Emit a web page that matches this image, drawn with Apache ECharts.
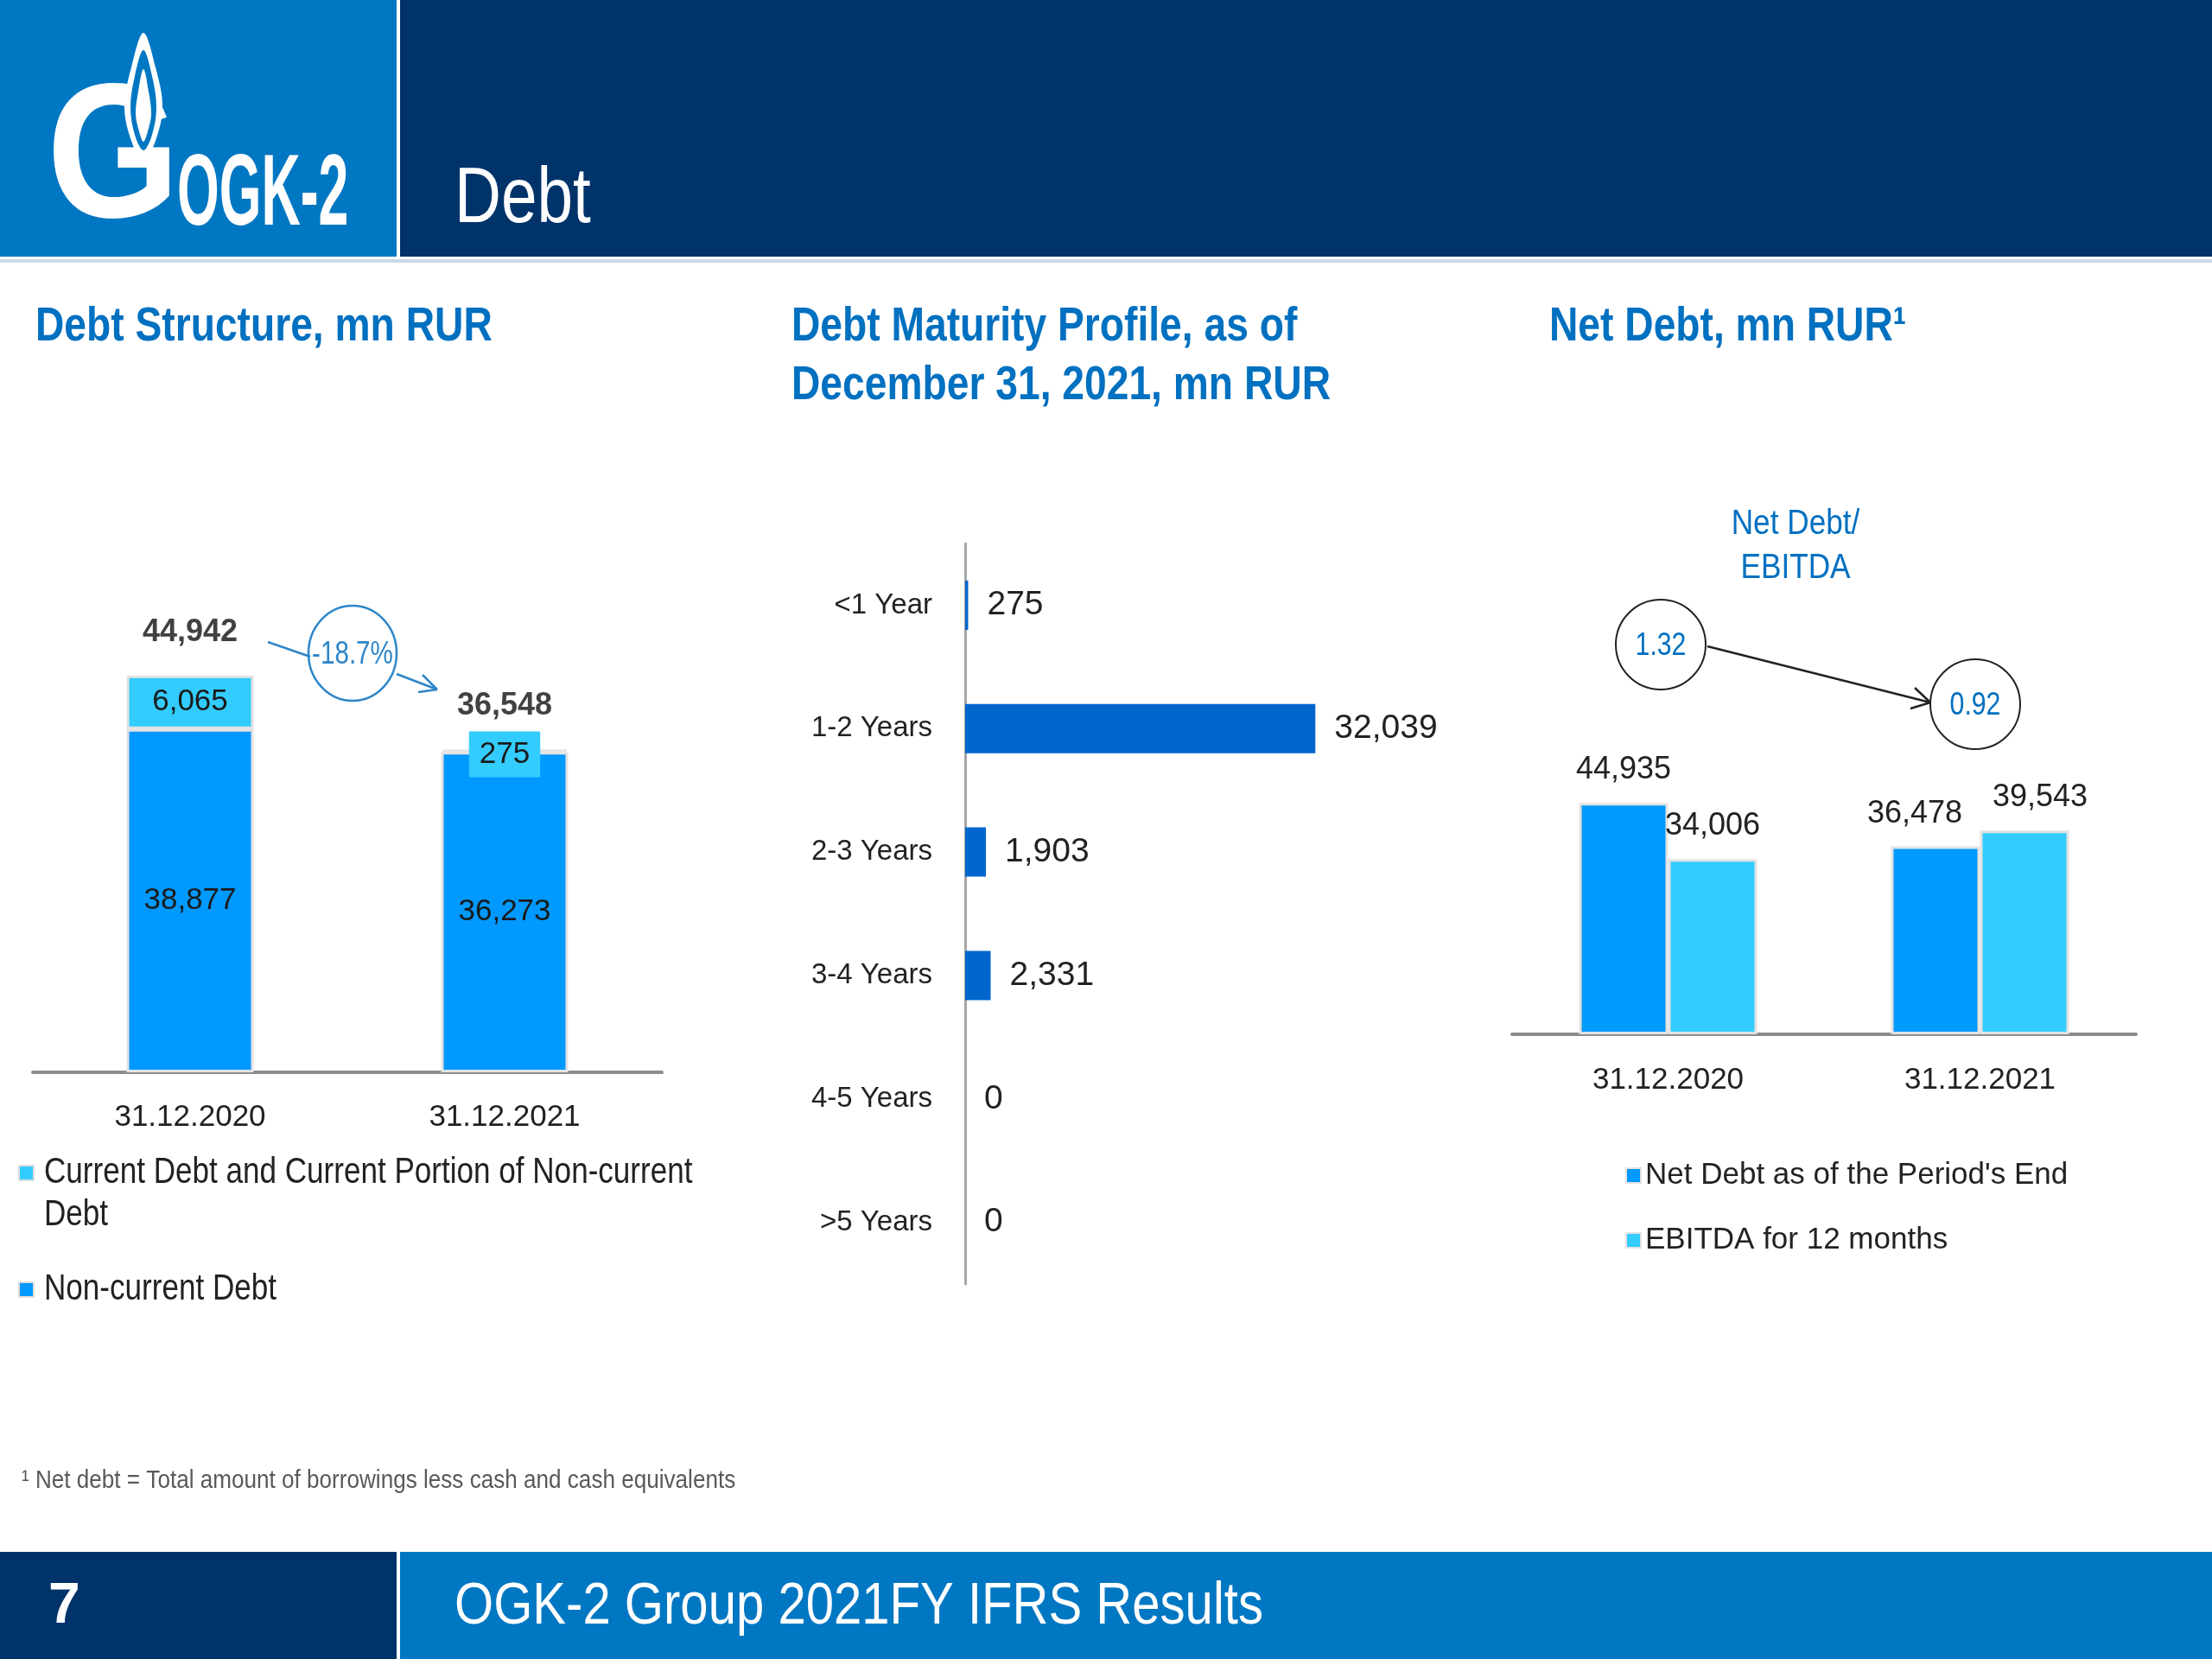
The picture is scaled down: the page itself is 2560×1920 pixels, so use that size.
<!DOCTYPE html>
<html>
<head>
<meta charset="utf-8">
<title>OGK-2 Debt</title>
<script src="https://cdn.jsdelivr.net/npm/echarts@6/dist/echarts.min.js"></script>
<style>
  html, body { margin: 0; padding: 0; background: #fff; }
  #chart { width: 2560px; height: 1920px; }
</style>
</head>
<body>
<div id="chart"></div>
<script>
// data
const debtDates = ['31.12.2020', '31.12.2021'];
const nonCurrentDebt = [38877, 36273];
const currentDebt = [6065, 275];
const debtChangeLabel = '-18.7%';

const maturityBuckets = ['<1 Year', '1-2 Years', '2-3 Years', '3-4 Years', '4-5 Years', '>5 Years'];
const maturityValues = [275, 32039, 1903, 2331, 0, 0];

const netDebtDates = ['31.12.2020', '31.12.2021'];
const netDebt = [44935, 36478];
const ebitda12m = [34006, 39543];
const netDebtToEbitda = [1.32, 0.92];

// no narrow face installed: plain Liberation Sans, squeezed with scaleX for the slide texts
const SANS = "'Liberation Sans', Arial, sans-serif";
const SQUEEZE = 0.84;
const NAVY = '#00336A';
const BLUE = '#0077C2';
const TITLE_BLUE = '#0070C0';
const C_DARK = '#0099FF';
const C_LIGHT = '#33CCFF';
const C_MAT = '#0066CC';

function fmt(v) {
  return Number(v).toLocaleString('en-US');
}

function txt(x, y, text, size, color, opts) {
  opts = opts || {};
  return {
    type: 'text', x: x, y: y, silent: true,
    scaleX: opts.scaleX || SQUEEZE,
    style: {
      text: text, x: 0, y: 0,
      fill: color,
      fontSize: size,
      fontFamily: SANS,
      fontWeight: opts.weight || 'normal',
      align: opts.align || 'left',
      verticalAlign: 'middle'
    }
  };
}

function line(x1, y1, x2, y2, color, w) {
  return { type: 'line', silent: true, shape: { x1: x1, y1: y1, x2: x2, y2: y2 }, style: { stroke: color, lineWidth: w } };
}

const debtTotals = nonCurrentDebt.map((v, i) => v + currentDebt[i]);

const chart = echarts.init(document.getElementById('chart'), null, { renderer: 'canvas' });

const graphic = [
  // header
  { type: 'rect', silent: true, shape: { x: 0, y: 0, width: 2560, height: 297 }, style: { fill: NAVY } },
  { type: 'rect', silent: true, shape: { x: 0, y: 0, width: 459, height: 297 }, style: { fill: BLUE } },
  { type: 'rect', silent: true, shape: { x: 459, y: 0, width: 4, height: 297 }, style: { fill: '#ffffff' } },
  { type: 'rect', silent: true, shape: { x: 0, y: 300, width: 2560, height: 4 }, style: { fill: '#cbd8e8' } },
  // logo
  txt(54, 190, 'G', 220, '#ffffff', { weight: 'bold', scaleX: 0.9 }),
  { type: 'polygon', silent: true, shape: { smooth: 0.35, points: [[166, 38], [180, 78], [188, 122], [181, 160], [166, 186], [151, 160], [144, 122], [152, 78]] }, style: { fill: '#ffffff' } },
  { type: 'polygon', silent: true, shape: { smooth: 0.35, points: [[166, 58], [176, 88], [181, 124], [176, 156], [166, 174], [156, 156], [151, 124], [156, 88]] }, style: { fill: BLUE } },
  { type: 'polygon', silent: true, shape: { smooth: 0.35, points: [[166, 80], [172, 106], [175, 132], [171, 152], [166, 164], [161, 152], [157, 132], [160, 106]] }, style: { fill: '#ffffff' } },
  txt(205, 228, 'OGK-2', 116, '#ffffff', { weight: 'bold', scaleX: 0.54 }),
  txt(526, 232, 'Debt', 90, '#ffffff', { scaleX: 0.83 }),

  // footer
  { type: 'rect', silent: true, shape: { x: 0, y: 1796, width: 2560, height: 124 }, style: { fill: NAVY } },
  { type: 'rect', silent: true, shape: { x: 463, y: 1796, width: 2097, height: 124 }, style: { fill: BLUE } },
  { type: 'rect', silent: true, shape: { x: 459, y: 1796, width: 4, height: 124 }, style: { fill: '#ffffff' } },
  txt(56, 1860, '7', 66, '#ffffff', { weight: 'bold', scaleX: 1 }),
  txt(526, 1860, 'OGK-2 Group 2021FY IFRS Results', 68, '#ffffff', { scaleX: 0.854 }),
  txt(25, 1714, '\u00b9 Net debt = Total amount of borrowings less cash and cash equivalents', 30, '#595959', { scaleX: 0.87 }),

  // section titles
  txt(41, 379, 'Debt Structure, mn RUR', 55, TITLE_BLUE, { weight: 'bold' }),
  txt(916, 379, 'Debt Maturity Profile, as of', 55, TITLE_BLUE, { weight: 'bold' }),
  txt(916, 447, 'December 31, 2021, mn RUR', 55, TITLE_BLUE, { weight: 'bold' }),
  txt(1793, 379, 'Net Debt, mn RUR\u00b9', 55, TITLE_BLUE, { weight: 'bold' }),

  // debt structure legend
  { type: 'rect', silent: true, shape: { x: 22, y: 1349, width: 17, height: 17 }, style: { fill: C_LIGHT, stroke: '#dddddd', lineWidth: 2 } },
  txt(51, 1357, 'Current Debt and Current Portion of Non-current', 42, '#222222', { scaleX: 0.835 }),
  txt(51, 1406, 'Debt', 42, '#222222', { scaleX: 0.835 }),
  { type: 'rect', silent: true, shape: { x: 22, y: 1484, width: 17, height: 17 }, style: { fill: C_DARK, stroke: '#dddddd', lineWidth: 2 } },
  txt(51, 1492, 'Non-current Debt', 42, '#222222', { scaleX: 0.835 }),

  // change annotation
  { type: 'ellipse', silent: true, shape: { cx: 408, cy: 756, rx: 51, ry: 55 }, style: { fill: 'none', stroke: '#2E86C8', lineWidth: 2.5 } },
  txt(408, 758, debtChangeLabel, 37, '#2E86C8', { align: 'center', scaleX: 0.8 }),
  line(310, 743, 359, 760, '#2E86C8', 2.5),
  line(459, 780, 506, 798, '#2E86C8', 2.5),
  line(506, 798, 489, 781, '#2E86C8', 2.5),
  line(506, 798, 484, 801, '#2E86C8', 2.5),

  // net debt / ebitda annotation
  txt(2078, 607, 'Net Debt/', 40, TITLE_BLUE, { align: 'center', scaleX: 0.88 }),
  txt(2078, 658, 'EBITDA', 40, TITLE_BLUE, { align: 'center', scaleX: 0.88 }),
  { type: 'circle', silent: true, shape: { cx: 1922, cy: 746, r: 52 }, style: { fill: 'none', stroke: '#222222', lineWidth: 2 } },
  { type: 'circle', silent: true, shape: { cx: 2286, cy: 815, r: 52 }, style: { fill: 'none', stroke: '#222222', lineWidth: 2 } },
  txt(1922, 748, netDebtToEbitda[0].toFixed(2), 36, TITLE_BLUE, { align: 'center' }),
  txt(2286, 817, netDebtToEbitda[1].toFixed(2), 36, TITLE_BLUE, { align: 'center' }),
  line(1976, 748, 2234, 813, '#222222', 2.5),
  line(2234, 813, 2216, 796, '#222222', 2.5),
  line(2234, 813, 2211, 820, '#222222', 2.5)
];

const axisLineStyle = { lineStyle: { color: '#8c8c8c', width: 4 } };

// small sideways nudges so the 2021 labels do not collide
const netDebtLabelShift = [0, -24];
const ebitdaLabelShift = [0, 18];

const option = {
  animation: false,
  backgroundColor: '#ffffff',
  textStyle: { fontFamily: SANS },
  grid: [
    { left: 38, top: 730, width: 728, height: 511 },
    { left: 1117, top: 629, width: 506, height: 857 },
    { left: 1750, top: 899, width: 722, height: 298 }
  ],
  xAxis: [
    {
      type: 'category', gridIndex: 0, data: debtDates,
      axisLine: axisLineStyle, axisTick: { show: false },
      axisLabel: { margin: 35, fontSize: 35, color: '#222222', fontFamily: SANS }
    },
    { type: 'value', gridIndex: 1, min: 0, max: 40000, show: false },
    {
      type: 'category', gridIndex: 2, data: netDebtDates,
      axisLine: axisLineStyle, axisTick: { show: false },
      axisLabel: { margin: 36, fontSize: 35, color: '#222222', fontFamily: SANS }
    }
  ],
  yAxis: [
    { type: 'value', gridIndex: 0, min: 0, max: 50000, show: false },
    {
      type: 'category', gridIndex: 1, data: maturityBuckets, inverse: true,
      axisLine: { lineStyle: { color: '#a6a6a6', width: 3 } }, axisTick: { show: false },
      axisLabel: { margin: 38, fontSize: 33, color: '#222222', fontFamily: SANS }
    },
    { type: 'value', gridIndex: 2, min: 0, max: 50000, show: false }
  ],
  legend: {
    data: ["Net Debt as of the Period's End", 'EBITDA for 12 months'],
    left: 1876, top: 1338, orient: 'vertical',
    icon: 'rect', itemWidth: 17, itemHeight: 17, itemGap: 40,
    selectedMode: false,
    textStyle: { fontSize: 35, color: '#222222', fontFamily: SANS }
  },
  graphic: graphic,
  series: [
    {
      name: 'Non-current Debt', type: 'bar', xAxisIndex: 0, yAxisIndex: 0,
      stack: 'debt', barWidth: 147, data: nonCurrentDebt,
      itemStyle: { color: C_DARK, borderColor: '#e3e3e3', borderWidth: 3 },
      label: { show: true, position: 'inside', fontSize: 35, color: '#1a1a1a', formatter: p => fmt(p.value) }
    },
    {
      name: 'Current Debt and Current Portion of Non-current Debt', type: 'bar', xAxisIndex: 0, yAxisIndex: 0,
      stack: 'debt', barWidth: 147,
      data: currentDebt.map(v => v < 2000
        ? { value: v, label: { backgroundColor: C_LIGHT, padding: [9, 12], offset: [0, 4] } }
        : v),
      itemStyle: { color: C_LIGHT, borderColor: '#e3e3e3', borderWidth: 3 },
      label: { show: true, position: 'inside', fontSize: 35, color: '#1a1a1a', formatter: p => fmt(p.value) }
    },
    {
      name: 'Total debt', type: 'scatter', xAxisIndex: 0, yAxisIndex: 0,
      symbolSize: 0, silent: true, data: debtTotals,
      label: { show: true, position: 'top', distance: 32, fontSize: 36, fontWeight: 'bold', color: '#111111', formatter: p => fmt(p.value) }
    },
    {
      name: 'Debt maturity', type: 'bar', xAxisIndex: 1, yAxisIndex: 1,
      barWidth: 57, data: maturityValues,
      itemStyle: { color: C_MAT },
      label: { show: true, position: 'right', distance: 22, fontSize: 39, color: '#222222', fontFamily: SANS, formatter: p => fmt(p.value) }
    },
    {
      name: "Net Debt as of the Period's End", type: 'bar', xAxisIndex: 2, yAxisIndex: 2,
      barWidth: 103, barGap: '0%',
      data: netDebt.map((v, i) => ({ value: v, label: { offset: [netDebtLabelShift[i], 0] } })),
      itemStyle: { color: C_DARK, borderColor: '#e3e3e3', borderWidth: 3 },
      label: { show: true, position: 'top', distance: 20, fontSize: 36, color: '#222222', formatter: p => fmt(p.value) }
    },
    {
      name: 'EBITDA for 12 months', type: 'bar', xAxisIndex: 2, yAxisIndex: 2,
      barWidth: 103, barGap: '0%',
      data: ebitda12m.map((v, i) => ({ value: v, label: { offset: [ebitdaLabelShift[i], 0] } })),
      itemStyle: { color: C_LIGHT, borderColor: '#e3e3e3', borderWidth: 3 },
      label: { show: true, position: 'top', distance: 20, fontSize: 36, color: '#222222', formatter: p => fmt(p.value) }
    }
  ]
};

chart.setOption(option);
</script>
</body>
</html>
